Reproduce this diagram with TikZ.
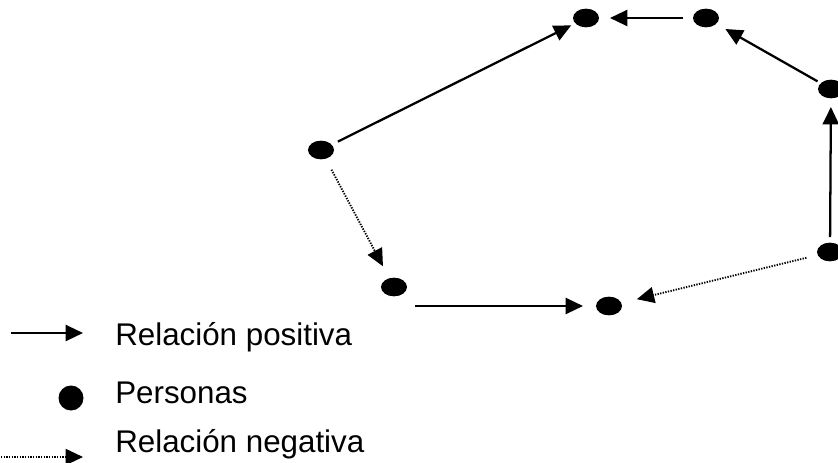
\documentclass[tikz,border=0pt]{standalone}
\usepackage{fontspec}
\setmainfont{Liberation Sans}
\usetikzlibrary{shapes.geometric,arrows.meta,positioning}

\tikzset{
  persona/.style={ellipse,fill=black,inner sep=0pt,minimum width=19.5pt,minimum height=14pt},
  positiva/.style={-{Triangle[length=13pt,width=12pt]},line width=1.7pt},
  negativa/.style={-{Triangle[length=13pt,width=12pt]},line width=1.4pt,dash pattern=on 1pt off 1pt},
  leyenda/.style={anchor=base west,inner sep=0pt,font=\fontsize{23.5}{28}\selectfont},
}

\begin{document}
\begin{tikzpicture}[x=0.75pt,y=-0.75pt]
  \useasboundingbox (0,0) rectangle (838,463);
  % personas
  \node[persona] (izq) at (321,150) {};
  \node[persona] (arr1) at (586,18) {};
  \node[persona] (arr2) at (706,18) {};
  \node[persona] (der1) at (831,89) {};
  \node[persona] (der2) at (830,252) {};
  \node[persona] (aba1) at (394,287) {};
  \node[persona] (aba2) at (609,306) {};
  % relaciones positivas
  \draw[positiva,shorten <=14.1pt,shorten >=12.4pt] (izq.center) -- (arr1.center);
  \draw[positiva,shorten <=17.2pt,shorten >=18pt] (arr2.center) -- (arr1.center);
  \draw[positiva,shorten <=11.6pt,shorten >=16.7pt] (der1.center) -- (arr2.center);
  \draw[positiva,shorten <=11.2pt,shorten >=13.5pt] (der2.center) -- (der1.center);
  \draw[positiva,shorten <=15.7pt,shorten >=19.5pt] (aba1.center |- aba2.center) -- (aba2.center);
  % relaciones negativas
  \draw[negativa,shorten <=16.7pt,shorten >=17.6pt] (izq.center) -- (aba1.center);
  \draw[negativa,shorten <=18.2pt,shorten >=21.5pt] (der2.center) -- (aba2.center);

  % leyenda
  \coordinate (lp1) at (11,333);
  \coordinate (lp2) at (83,333);
  \draw[positiva] (lp1) -- (lp2);
  \node[leyenda] (tpos) at (115,345) {Relación positiva};
  \node[circle,fill=black,inner sep=0pt,minimum size=18.75pt] (lpers) at (71,398) {};
  \node[leyenda] (tpers) at (115,403) {Personas};
  \coordinate (ln1) at (1,457);
  \coordinate (ln2) at (83,457);
  \draw[negativa] (ln1) -- (ln2);
  \node[leyenda] (tneg) at (115,452) {Relación negativa};
\end{tikzpicture}
\end{document}
